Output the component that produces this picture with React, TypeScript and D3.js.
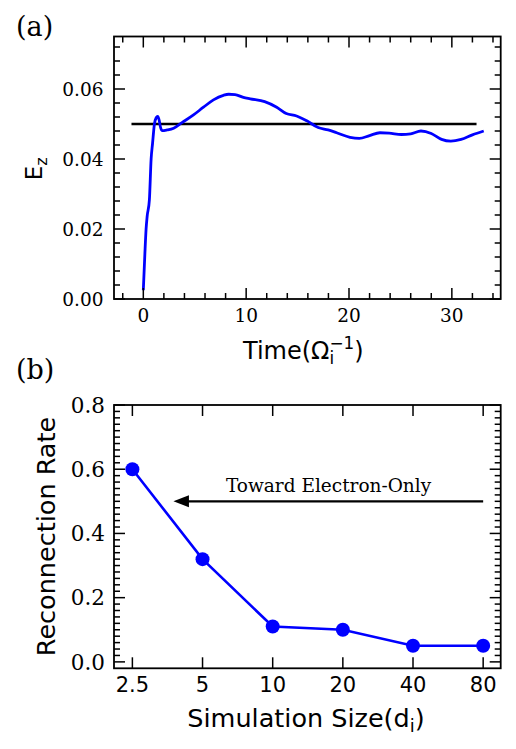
import React from "react";
import * as d3 from "d3";

// panel (a): reconnection electric field vs time
const timeVals = [
  0, 0.15, 0.27, 0.37, 0.59, 0.76, 0.9, 1.08, 1.25, 1.4, 1.55, 1.66, 1.82, 2.31,
  2.95, 3.76, 4.88, 5.85, 6.82, 7.79, 8.3, 8.92, 9.73, 10.4, 11.8, 12.97, 13.9,
  14.9, 15.9, 17.0, 17.97, 18.8, 20.1, 21.0, 22.0, 23.0, 23.9, 25.1, 26.0, 27.0,
  28.0, 29.0, 29.9, 30.9, 32.0, 33.1,
];
const ezVals = [
  0.0025, 0.0128, 0.02, 0.0235, 0.0283, 0.04, 0.0445, 0.05, 0.0518, 0.0522, 0.051,
  0.0492, 0.0481, 0.0483, 0.0488, 0.0504, 0.0526, 0.0548, 0.0569, 0.0582, 0.0585,
  0.0584, 0.0576, 0.0572, 0.0564, 0.0548, 0.053, 0.0523, 0.0509, 0.049, 0.0483,
  0.0475, 0.0462, 0.0459, 0.0467, 0.0475, 0.0474, 0.047, 0.0472, 0.048, 0.0473,
  0.0456, 0.0451, 0.0456, 0.0469, 0.048,
];
const refLevel = 0.05;
const refSpan = [-1.15, 32.4];
const ezTicks = [0, 0.02, 0.04, 0.06];
const timeTicks = [0, 10, 20, 30];

// panel (b): reconnection rate vs box size
const sizeVals = [2.5, 5, 10, 20, 40, 80];
const sizeLabels = ["2.5", "5", "10", "20", "40", "80"];
const rateVals = [0.6, 0.32, 0.11, 0.1, 0.05, 0.05];
const rateTicks = [0, 0.2, 0.4, 0.6, 0.8];
const rateTickLabels = ["0.0", "0.2", "0.4", "0.6", "0.8"];

const SERIF = "DejaVu Serif";
const SANS = "DejaVu Sans";
const BLUE = "#0000ff";

const L = 114, R = 500.7;
const MAJ = 11, MIN = 6;

function Frame({ top, bottom }: { top: number; bottom: number }) {
  return (
    <rect x={L} y={top} width={R - L} height={bottom - top}
      fill="none" stroke="#000" strokeWidth={1.8} />
  );
}

function PanelA() {
  const top = 36.5, bottom = 299;
  const x = d3.scaleLinear().domain([-2.85, 34.75]).range([L, R]);
  const y = d3.scaleLinear().domain([0, 0.075]).range([bottom, top]);
  const line = d3.line<number>()
    .x((_, i) => x(timeVals[i]))
    .y(d => y(d))
    .curve(d3.curveMonotoneX);

  const xMinor = d3.range(-2, 35, 2).filter(v => v % 10 !== 0);
  const yMinor = d3.range(0, 0.0745, 0.004).filter(v => Math.abs(v / 0.02 - Math.round(v / 0.02)) > 1e-6);

  return (
    <g>
      <text x={16} y={36} fontFamily={SERIF} fontSize={27}>(a)</text>
      <line x1={x(refSpan[0])} x2={x(refSpan[1])} y1={y(refLevel)} y2={y(refLevel)}
        stroke="#000" strokeWidth={2.5} />
      <path d={line(ezVals) ?? ""} fill="none" stroke={BLUE} strokeWidth={2.8} />
      <g stroke="#000" strokeWidth={1.5}>
        {timeTicks.map(t => (
          <g key={"xm" + t}>
            <line x1={x(t)} x2={x(t)} y1={bottom} y2={bottom - MAJ} />
            <line x1={x(t)} x2={x(t)} y1={top} y2={top + MAJ} />
          </g>
        ))}
        {xMinor.map(t => (
          <g key={"xn" + t}>
            <line x1={x(t)} x2={x(t)} y1={bottom} y2={bottom - MIN} />
            <line x1={x(t)} x2={x(t)} y1={top} y2={top + MIN} />
          </g>
        ))}
        {ezTicks.map(v => (
          <g key={"ym" + v}>
            <line x1={L} x2={L + MAJ} y1={y(v)} y2={y(v)} />
            <line x1={R} x2={R - MAJ} y1={y(v)} y2={y(v)} />
          </g>
        ))}
        {yMinor.map(v => (
          <g key={"yn" + v}>
            <line x1={L} x2={L + MIN} y1={y(v)} y2={y(v)} />
            <line x1={R} x2={R - MIN} y1={y(v)} y2={y(v)} />
          </g>
        ))}
      </g>
      <Frame top={top} bottom={bottom} />
      <g fontFamily={SERIF} fontSize={18.5} fill="#000">
        {ezTicks.map(v => (
          <text key={"yl" + v} x={L - 10.5} y={y(v) + 6.7} textAnchor="end">
            {v.toFixed(2)}
          </text>
        ))}
        {timeTicks.map(t => (
          <text key={"xl" + t} x={x(t)} y={bottom + 23} textAnchor="middle">{t}</text>
        ))}
      </g>
      <text transform={`translate(41.5,${(top + bottom) / 2 + 1}) rotate(-90)`}
        fontFamily={SANS} fontSize={23} textAnchor="middle">
        E<tspan fontSize={16} dy={5}>z</tspan>
      </text>
      {/* Ω_i^-1: superscript stacked over the subscript */}
      <text x={243} y={358.5} fontFamily={SANS} fontSize={24}>
        Time(Ω<tspan fontSize={16.8} dy={5}>i</tspan>
        <tspan fontSize={16.8} dx={-4.7} dy={-15}>−1</tspan>
        <tspan dy={10}>)</tspan>
      </text>
    </g>
  );
}

function PanelB() {
  const top = 405, bottom = 668.3;
  const x = d3.scaleLog().base(2).domain([2.5 * Math.pow(2, -0.262), 80 * Math.pow(2, 0.25)]).range([L, R]);
  const y = d3.scaleLinear().domain([-0.02, 0.8]).range([bottom, top]);
  const line = d3.line<number>()
    .x((_, i) => x(sizeVals[i]))
    .y(d => y(d));

  const yMinor = d3.range(0, 0.801, 0.02).filter(v => Math.abs(v / 0.2 - Math.round(v / 0.2)) > 1e-6);
  const arrowY = y(0.5);
  const tipX = x(3.75);
  const tailX = x(80);

  return (
    <g>
      <text x={16} y={379} fontFamily={SERIF} fontSize={27}>(b)</text>
      <g stroke="#000" strokeWidth={1.5}>
        {sizeVals.map(s => (
          <g key={"xm" + s}>
            <line x1={x(s)} x2={x(s)} y1={bottom} y2={bottom - MAJ} />
            <line x1={x(s)} x2={x(s)} y1={top} y2={top + MAJ} />
          </g>
        ))}
        {rateTicks.map(v => (
          <g key={"ym" + v}>
            <line x1={L} x2={L + MAJ} y1={y(v)} y2={y(v)} />
            <line x1={R} x2={R - MAJ} y1={y(v)} y2={y(v)} />
          </g>
        ))}
        {yMinor.map(v => (
          <g key={"yn" + v}>
            <line x1={L} x2={L + MIN} y1={y(v)} y2={y(v)} />
            <line x1={R} x2={R - MIN} y1={y(v)} y2={y(v)} />
          </g>
        ))}
      </g>
      <Frame top={top} bottom={bottom} />
      {/* arrow pointing toward smaller boxes */}
      <line x1={tailX} x2={tipX + 14} y1={arrowY} y2={arrowY} stroke="#000" strokeWidth={2.2} />
      <path d={`M${tipX},${arrowY} L${tipX + 15.5},${arrowY - 6} L${tipX + 15.5},${arrowY + 6} Z`} fill="#000" />
      <text x={x(6.3)} y={arrowY - 9} fontFamily={SERIF} fontSize={18.5}>Toward Electron-Only</text>
      <path d={line(rateVals) ?? ""} fill="none" stroke={BLUE} strokeWidth={2.6} />
      {rateVals.map((v, i) => (
        <circle key={"pt" + i} cx={x(sizeVals[i])} cy={y(v)} r={7} fill={BLUE} />
      ))}
      <g fontFamily={SERIF} fontSize={21.5} fill="#000">
        {rateTicks.map((v, i) => (
          <text key={"yl" + v} x={L - 9} y={y(v) + 7.8} textAnchor="end">{rateTickLabels[i]}</text>
        ))}
      </g>
      <g fontFamily={SANS} fontSize={21} fill="#000">
        {sizeVals.map((s, i) => (
          <text key={"xl" + s} x={x(s)} y={bottom + 23.4} textAnchor="middle">{sizeLabels[i]}</text>
        ))}
      </g>
      <text transform={`translate(55,536.5) rotate(-90)`} fontFamily={SANS} fontSize={25.5} textAnchor="middle">
        Reconnection Rate
      </text>
      <text x={306} y={726.7} fontFamily={SANS} fontSize={25.5} textAnchor="middle">
        Simulation Size(d<tspan fontSize={17.9} dy={5}>i</tspan><tspan dy={-5}>)</tspan>
      </text>
    </g>
  );
}

export default function App() {
  return (
    <div style={{ position: "absolute", left: 0, top: 0 }}>
      <svg width={516} height={749} style={{ display: "block", background: "#fff" }}>
        <PanelA />
        <PanelB />
      </svg>
    </div>
  );
}
